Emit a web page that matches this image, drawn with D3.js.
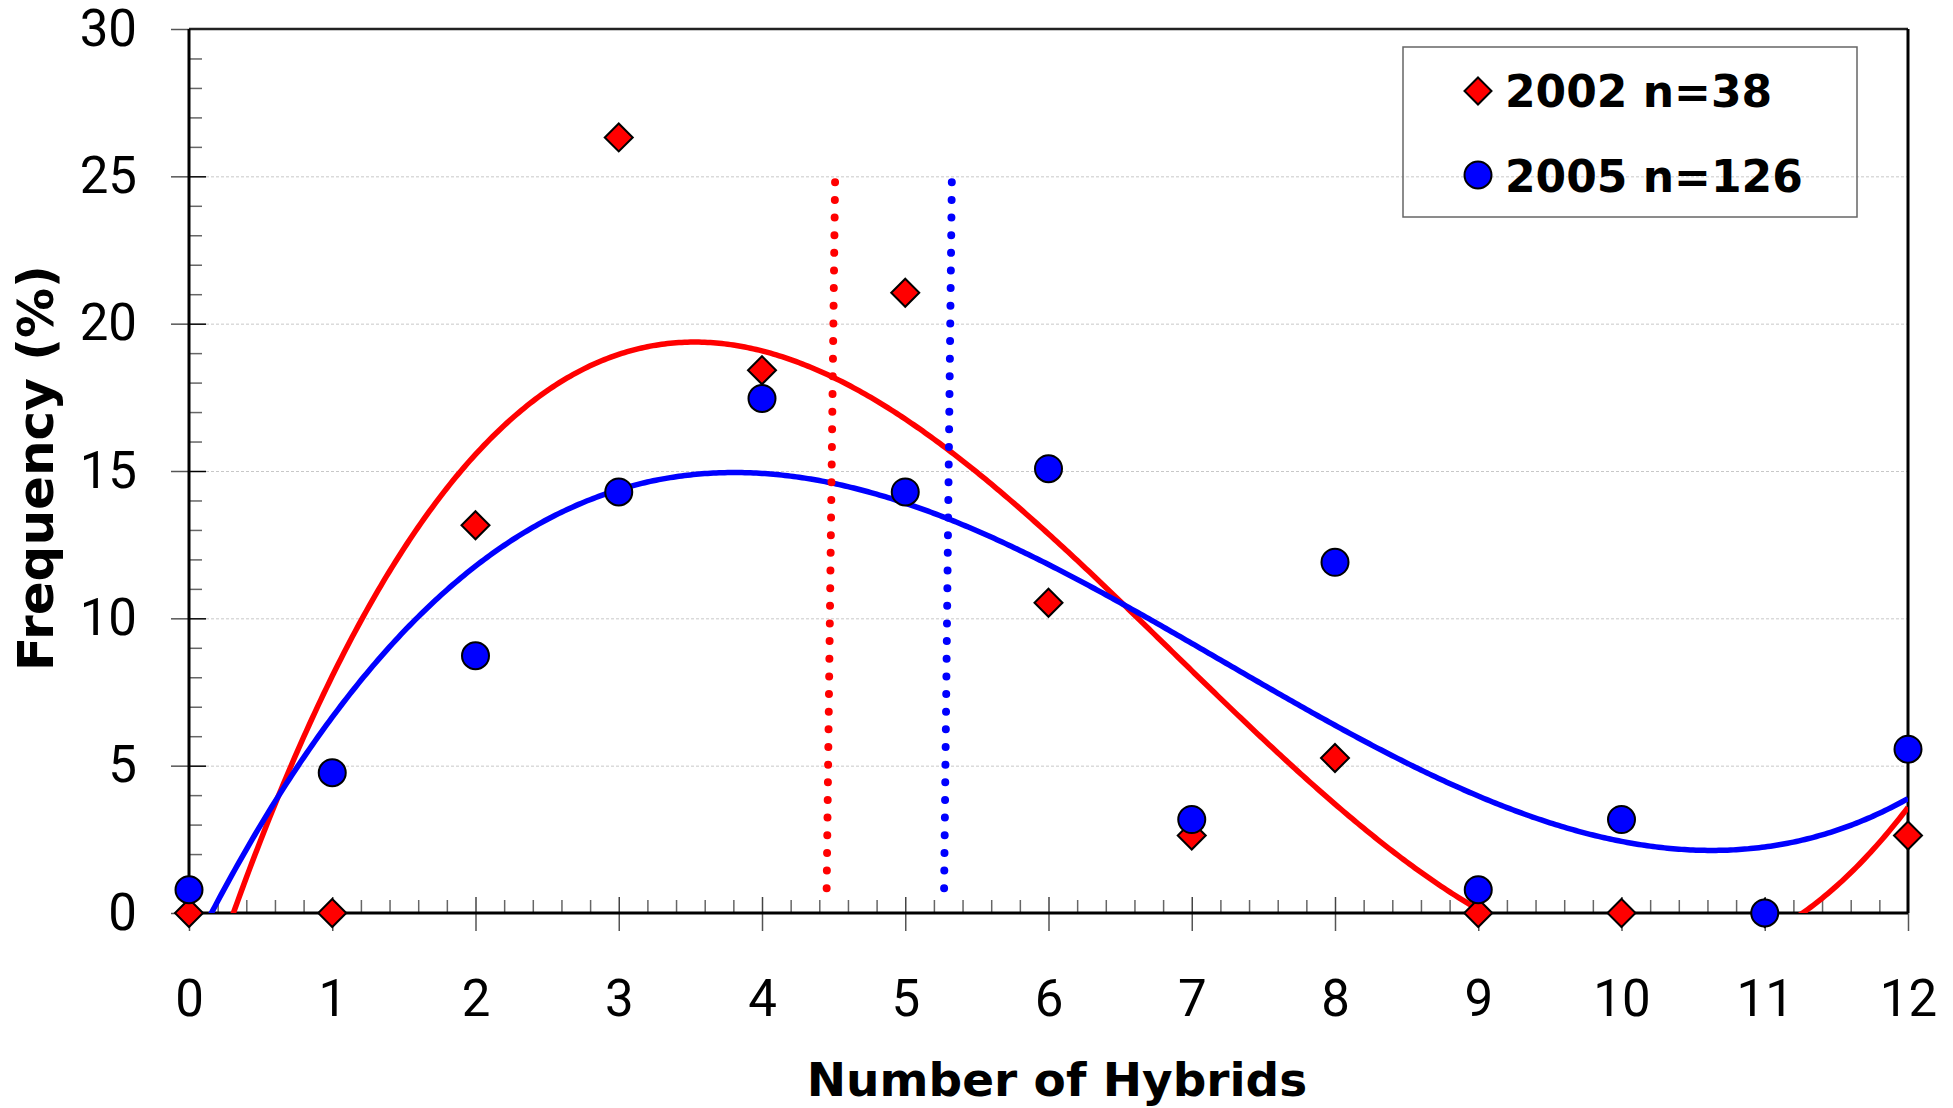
<!DOCTYPE html>
<html>
<head>
<meta charset="utf-8">
<script src="https://cdn.jsdelivr.net/npm/d3@7"></script>
<style>
  html, body { margin: 0; padding: 0; background: #fff; }
  svg { display: block; }
</style>
</head>
<body>
<div id="chart"></div>
<script>
// Number of hybrids per sample and the frequency (%) observed in each survey year
const hybrids = [0, 1, 2, 3, 4, 5, 6, 7, 8, 9, 10, 11, 12];
const freq2002 = [0, 0, 13.16, 26.32, 18.42, 21.05, 10.53, 2.63, 5.26, 0, 0, 0, 2.63];
const freq2005 = [0.79, 4.76, 8.73, 14.29, 17.46, 14.29, 15.08, 3.17, 11.90, 0.79, 3.17, 0, 5.56];
const seriesLabels = ["2002 n=38", "2005 n=126"];
const seriesColors = ["#ff0000", "#0000ff"];
// Mean markers drawn as dotted verticals: [x at top, y at top, x at bottom, y at bottom]
const mean2002 = [4.51, 24.8, 4.45, 0.3];
const mean2005 = [5.325, 24.8, 5.27, 0.3];
const yTicks = [0, 5, 10, 15, 20, 25, 30];
const xTicks = hybrids;

(function draw() {
  const W = 1953, H = 1108;
  const pL = 189, pR = 1908, pT = 29, pB = 913;

  const svg = d3.select("#chart").append("svg")
    .attr("width", W).attr("height", H);

  const x = d3.scaleLinear().domain([0, 12]).range([pL, pR]);
  const y = d3.scaleLinear().domain([0, 30]).range([pB, pT]);

  // least-squares polynomial (trendline) fit
  function polyFit(xs, ys, deg) {
    const n = deg + 1;
    const A = Array.from({length: n}, () => new Array(n + 1).fill(0));
    for (let k = 0; k < xs.length; k++) {
      for (let i = 0; i < n; i++) {
        for (let j = 0; j < n; j++) A[i][j] += Math.pow(xs[k], i + j);
        A[i][n] += ys[k] * Math.pow(xs[k], i);
      }
    }
    for (let i = 0; i < n; i++) {
      let p = i;
      for (let r = i + 1; r < n; r++) if (Math.abs(A[r][i]) > Math.abs(A[p][i])) p = r;
      [A[i], A[p]] = [A[p], A[i]];
      for (let r = 0; r < n; r++) {
        if (r === i) continue;
        const f = A[r][i] / A[i][i];
        for (let c = i; c <= n; c++) A[r][c] -= f * A[i][c];
      }
    }
    return A.map((row, i) => row[n] / row[i]);
  }
  const evalPoly = (c, v) => c.reduce((s, a, i) => s + a * Math.pow(v, i), 0);

  // clip for trendlines
  svg.append("defs").append("clipPath").attr("id", "plotClip")
    .append("rect").attr("x", pL).attr("y", pT)
    .attr("width", pR - pL).attr("height", pB - pT);

  // horizontal gridlines
  const grid = svg.append("g").attr("transform", `translate(${pL + 17},0)`)
    .call(d3.axisRight(y).tickValues(yTicks.filter(v => v > 0 && v < 30))
      .tickSize(pR - pL - 17).tickFormat(""));
  grid.select(".domain").remove();
  grid.selectAll("line").attr("stroke", "#c8c8c8").attr("stroke-width", 1)
    .attr("stroke-dasharray", "3,2");

  // y axis: outer major ticks with labels
  const yAxis = svg.append("g").attr("transform", `translate(${pL},0)`)
    .call(d3.axisLeft(y).tickValues(yTicks).tickSizeInner(18).tickSizeOuter(0).tickPadding(34));
  yAxis.select(".domain").remove();
  yAxis.selectAll("line").attr("stroke", "#555").attr("stroke-width", 1.5);
  yAxis.selectAll("text").attr("font-family", "Roboto, sans-serif").attr("font-size", 51)
    .attr("fill", "#000");

  // y axis: inner minor ticks
  const yMinor = svg.append("g").attr("transform", `translate(${pL},0)`)
    .call(d3.axisRight(y).tickValues(d3.range(0, 31).filter(v => v % 5 !== 0))
      .tickSize(13).tickFormat(""));
  yMinor.select(".domain").remove();
  yMinor.selectAll("line").attr("stroke", "#666").attr("stroke-width", 1.5);

  // y axis: inner major ticks
  const yMajorIn = svg.append("g").attr("transform", `translate(${pL},0)`)
    .call(d3.axisRight(y).tickValues(yTicks.filter(v => v > 0 && v < 30)).tickSize(17).tickFormat(""));
  yMajorIn.select(".domain").remove();
  yMajorIn.selectAll("line").attr("stroke", "#000").attr("stroke-width", 1.5);

  // x axis: major ticks below with labels
  const xAxis = svg.append("g").attr("transform", `translate(0,${pB})`)
    .call(d3.axisBottom(x).tickValues(xTicks).tickSizeInner(18).tickSizeOuter(0).tickPadding(49));
  xAxis.select(".domain").remove();
  xAxis.selectAll("line").attr("stroke", "#555").attr("stroke-width", 1.5);
  xAxis.selectAll("text").attr("font-family", "Roboto, sans-serif").attr("font-size", 51)
    .attr("fill", "#000");

  // x axis: ticks above the axis line (minor every 0.2, major at integers)
  const xMinor = svg.append("g").attr("transform", `translate(0,${pB})`)
    .call(d3.axisTop(x).tickValues(d3.range(0, 60).map(i => i / 5).filter((v, i) => i % 5 !== 0))
      .tickSize(13).tickFormat(""));
  xMinor.select(".domain").remove();
  xMinor.selectAll("line").attr("stroke", "#666").attr("stroke-width", 1.5);
  const xMajorIn = svg.append("g").attr("transform", `translate(0,${pB})`)
    .call(d3.axisTop(x).tickValues(xTicks.slice(1, -1)).tickSize(16).tickFormat(""));
  xMajorIn.select(".domain").remove();
  xMajorIn.selectAll("line").attr("stroke", "#444").attr("stroke-width", 1.5);

  // plot frame
  svg.append("line").attr("x1", pL).attr("x2", pR).attr("y1", pT).attr("y2", pT)
    .attr("stroke", "#222").attr("stroke-width", 2.5);
  svg.append("line").attr("x1", pR).attr("x2", pR).attr("y1", pT).attr("y2", pB)
    .attr("stroke", "#000").attr("stroke-width", 3);
  svg.append("line").attr("x1", pL).attr("x2", pL).attr("y1", pT).attr("y2", pB)
    .attr("stroke", "#000").attr("stroke-width", 3);
  svg.append("line").attr("x1", pL).attr("x2", pR).attr("y1", pB).attr("y2", pB)
    .attr("stroke", "#000").attr("stroke-width", 3);

  // cubic trendlines
  const series = [freq2002, freq2005];
  const curveX = d3.range(0, 12.0001, 0.02);
  const line = d3.line().x(d => x(d[0])).y(d => y(d[1]));
  series.forEach((vals, i) => {
    const c = polyFit(hybrids, vals, 3);
    svg.append("path")
      .attr("d", line(curveX.map(v => [v, evalPoly(c, v)])))
      .attr("fill", "none").attr("stroke", seriesColors[i]).attr("stroke-width", 5.5)
      .attr("clip-path", "url(#plotClip)");
  });

  // dotted mean lines
  [mean2002, mean2005].forEach((m, i) => {
    svg.append("line")
      .attr("x1", x(m[0])).attr("y1", y(m[1])).attr("x2", x(m[2])).attr("y2", y(m[3]))
      .attr("stroke", seriesColors[i]).attr("stroke-width", 8)
      .attr("stroke-linecap", "round").attr("stroke-dasharray", "0,17.65");
  });

  // markers
  const diamond = s => `M0,${-s}L${s},0L0,${s}L${-s},0Z`;
  svg.append("g").selectAll("path").data(hybrids).join("path")
    .attr("transform", (d, i) => `translate(${x(d)},${y(freq2002[i])})`)
    .attr("d", diamond(14))
    .attr("fill", seriesColors[0]).attr("stroke", "#000").attr("stroke-width", 2);
  svg.append("g").selectAll("circle").data(hybrids).join("circle")
    .attr("cx", d => x(d)).attr("cy", (d, i) => y(freq2005[i])).attr("r", 13.5)
    .attr("fill", seriesColors[1]).attr("stroke", "#000").attr("stroke-width", 2);

  // axis titles
  svg.append("text").attr("x", 1057).attr("y", 1096)
    .attr("text-anchor", "middle").attr("font-family", "'DejaVu Sans', sans-serif")
    .attr("font-weight", "bold").attr("font-size", 47).text("Number of Hybrids");
  svg.append("text").attr("transform", "rotate(-90)").attr("x", -468).attr("y", 53)
    .attr("text-anchor", "middle").attr("font-family", "'DejaVu Sans', sans-serif")
    .attr("font-weight", "bold").attr("font-size", 50).text("Frequency (%)");

  // legend
  const lg = svg.append("g");
  lg.append("rect").attr("x", 1403).attr("y", 47).attr("width", 454).attr("height", 170)
    .attr("fill", "none").attr("stroke", "#666").attr("stroke-width", 1.5);
  lg.append("path").attr("transform", "translate(1478,91)").attr("d", diamond(13.5))
    .attr("fill", seriesColors[0]).attr("stroke", "#000").attr("stroke-width", 2);
  lg.append("circle").attr("cx", 1478).attr("cy", 175).attr("r", 13.5)
    .attr("fill", seriesColors[1]).attr("stroke", "#000").attr("stroke-width", 2);
  lg.selectAll("text").data(seriesLabels).join("text")
    .attr("x", 1505).attr("y", (d, i) => [107, 192][i])
    .attr("font-family", "'DejaVu Sans', sans-serif").attr("font-weight", "bold")
    .attr("font-size", 44).text(d => d);
})();
</script>
</body>
</html>
